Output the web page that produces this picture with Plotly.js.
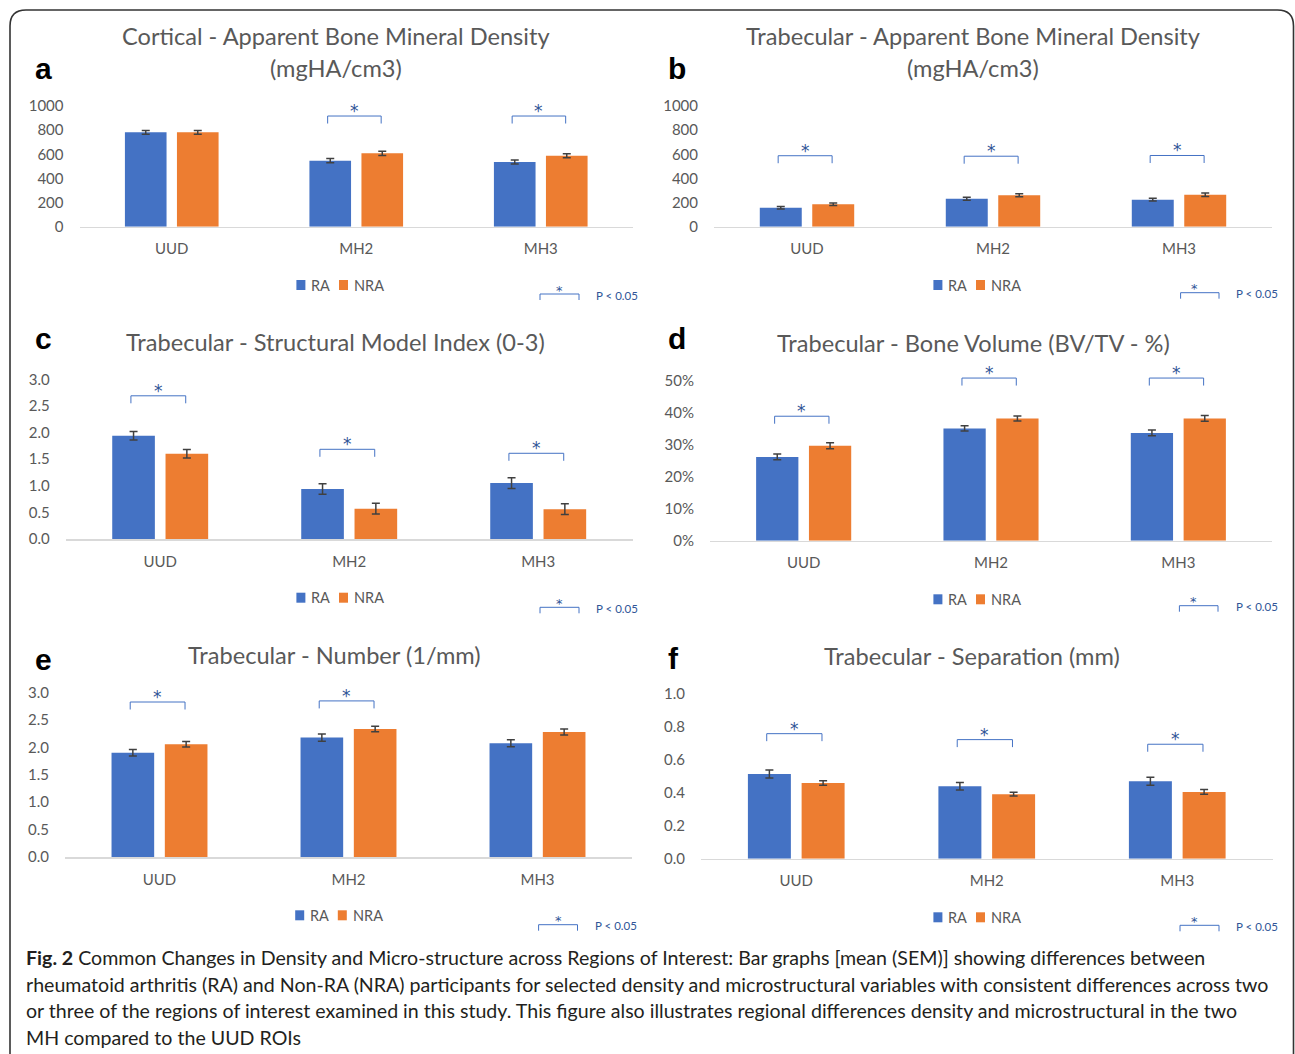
<!DOCTYPE html>
<html><head><meta charset="utf-8">
<script src="https://cdn.plot.ly/plotly-3.0.1.min.js"></script>
<style>html,body{margin:0;padding:0;background:#fff}#chart{width:1295px;height:1054px}</style>
</head><body><div id="chart"></div>
<script>
// ---------------- DATA ----------------
const categories = ['UUD', 'MH2', 'MH3'];
const seriesNames = ['RA', 'NRA'];

const aTitle = ['Cortical - Apparent Bone Mineral Density', '(mgHA/cm3)'];
const aRA = [782, 547, 536];
const aNRA = [782, 608, 588];
const aRAerr = [16, 18, 17];
const aNRAerr = [16, 18, 17];
const aSig = [null, 917, 917];

const bTitle = ['Trabecular - Apparent Bone Mineral Density', '(mgHA/cm3)'];
const bRA = [157, 232, 224];
const bNRA = [186, 260, 265];
const bRAerr = [10, 12, 12];
const bNRAerr = [10, 12, 15];
const bSig = [588, 584, 590];

const cTitle = ['Trabecular - Structural Model Index (0-3)'];
const cRA = [1.94, 0.94, 1.05];
const cNRA = [1.60, 0.57, 0.56];
const cRAerr = [0.08, 0.10, 0.10];
const cNRAerr = [0.08, 0.10, 0.10];
const cSig = [2.69, 1.685, 1.61];

const dTitle = ['Trabecular - Bone Volume (BV/TV - %)'];
const dRA = [0.261, 0.350, 0.336];
const dNRA = [0.296, 0.381, 0.381];
const dRAerr = [0.009, 0.008, 0.009];
const dNRAerr = [0.009, 0.008, 0.009];
const dSig = [0.388, 0.507, 0.507];

const eTitle = ['Trabecular - Number (1/mm)'];
const eRA = [1.905, 2.18, 2.077];
const eNRA = [2.058, 2.337, 2.282];
const eRAerr = [0.06, 0.065, 0.065];
const eNRAerr = [0.05, 0.05, 0.055];
const eSig = [2.83, 2.85, null];

const fTitle = ['Trabecular - Separation (mm)'];
const fRA = [0.512, 0.438, 0.468];
const fNRA = [0.458, 0.390, 0.404];
const fRAerr = [0.024, 0.023, 0.024];
const fNRAerr = [0.014, 0.011, 0.014];
const fSig = [0.756, 0.72, 0.692];

const sigText = '*';
const pLegendText = 'P < 0.05';
const captionBold = 'Fig. 2';
const captionLines = [
  'Common Changes in Density and Micro-structure across Regions of Interest: Bar graphs [mean (SEM)] showing differences between',
  'rheumatoid arthritis (RA) and Non-RA (NRA) participants for selected density and microstructural variables with consistent differences across two',
  'or three of the regions of interest examined in this study. This figure also illustrates regional differences density and microstructural in the two',
  'MH compared to the UUD ROIs'
];

// ---------------- STYLE / LAYOUT ----------------
const W = 1295, H = 1054;
const BLUE = '#4472C4', ORANGE = '#ED7D31', STAR = '#2F5597';
const seriesColors = [BLUE, ORANGE];
const GRAY = '#595959';
const FONT = 'Lato, "Open Sans", sans-serif';
const px = x => x / W;
const py = y => 1 - y / H;

const panels = [
  {letter:'a', title:aTitle, ra:aRA, nra:aNRA, raErr:aRAerr, nraErr:aNRAerr, sig:aSig, top:1000, dtick:200, fmt:'d',
   xpx:[79.5,633], ypx:[226.7,106], titleX:336, titleY:36, letterPos:[33,79], leg:[296.4,285], pleg:{x0:540,x1:579,y:294,tx:594}},
  {letter:'b', title:bTitle, ra:bRA, nra:bNRA, raErr:bRAerr, nraErr:bNRAerr, sig:bSig, top:1000, dtick:200, fmt:'d',
   xpx:[714,1272], ypx:[226.7,106], titleX:973, titleY:36, letterPos:[665.6,79], leg:[933.4,285], pleg:{x0:1180.6,x1:1219,y:292.7,tx:1234}},
  {letter:'c', title:cTitle, ra:cRA, nra:cNRA, raErr:cRAerr, nraErr:cNRAerr, sig:cSig, top:3, dtick:0.5, fmt:'.1f',
   xpx:[65.7,632.7], ypx:[539,379.3], titleX:335, titleY:341.7, letterPos:[33,349.3], leg:[296.4,597.7], pleg:{x0:540,x1:579,y:607.3,tx:594}},
  {letter:'d', title:dTitle, ra:dRA, nra:dNRA, raErr:dRAerr, nraErr:dNRAerr, sig:dSig, top:0.5, dtick:0.1, fmt:'.0%',
   xpx:[710,1272], ypx:[540.7,380.3], titleX:973, titleY:342.7, letterPos:[665.6,349.3], leg:[933.4,599.3], pleg:{x0:1179.4,x1:1218,y:605.7,tx:1233.7}},
  {letter:'e', title:eTitle, ra:eRA, nra:eNRA, raErr:eRAerr, nraErr:eNRAerr, sig:eSig, top:3, dtick:0.5, fmt:'.1f',
   xpx:[65,632], ypx:[857,692.7], titleX:334, titleY:655, letterPos:[33,670], leg:[295.2,915.3], pleg:{x0:538.6,x1:577.5,y:924.7,tx:592.9}},
  {letter:'f', title:fTitle, ra:fRA, nra:fNRA, raErr:fRAerr, nraErr:fNRAerr, sig:fSig, top:1, dtick:0.2, fmt:'.1f',
   xpx:[701,1272.5], ypx:[858.7,693.3], titleX:972.3, titleY:656, letterPos:[665.6,669.3], leg:[933.4,917.3], pleg:{x0:1180,x1:1219,y:925.3,tx:1234}}
];

const traces = [], annotations = [], shapes = [];
const layout = {
  width: W, height: H,
  margin: {l:0, r:0, t:0, b:0, pad:0},
  paper_bgcolor: '#ffffff', plot_bgcolor: 'rgba(0,0,0,0)',
  barmode: 'group', bargap: 0.436, bargroupgap: 0.2,
  showlegend: false,
  font: {family: FONT, color: GRAY}
};

panels.forEach((p, i) => {
  const n = i + 1;
  const suf = n === 1 ? '' : String(n);
  const xr = 'x' + suf, yr = 'y' + suf;
  const ext = 1.1;
  const y0 = p.ypx[0], yT = p.ypx[1];
  const yTopPx = y0 - (y0 - yT) * ext;
  layout['xaxis' + suf] = {
    domain: [px(p.xpx[0]), px(p.xpx[1])], type: 'category', range: [-0.5, 2.5], anchor: yr,
    showline: true, linecolor: '#D9D9D9', linewidth: 1.5, ticks: '', showgrid: false, zeroline: false,
    tickfont: {family: FONT, size: 15, color: GRAY}, ticklabelstandoff: 8, fixedrange: true
  };
  layout['yaxis' + suf] = {
    domain: [py(y0), py(yTopPx)], range: [0, p.top * ext], anchor: xr,
    tick0: 0, dtick: p.dtick, tickformat: p.fmt, showgrid: false, zeroline: false, showline: false, ticks: '',
    tickfont: {family: FONT, size: 15, color: GRAY}, ticklabelstandoff: 15, fixedrange: true
  };
  const vals = [p.ra, p.nra], errs = [p.raErr, p.nraErr];
  seriesNames.forEach((nm, s) => {
    traces.push({type:'bar', x:categories, y:vals[s], name:nm, xaxis:xr, yaxis:yr,
      marker:{color:seriesColors[s]}, error_y:{type:'data', array:errs[s], color:'#404040', thickness:1.5, width:4},
      hoverinfo:'skip'});
  });

  // legend (square swatch + name, Excel style)
  const lx = p.leg[0], ly = p.leg[1];
  const offs = [0, 42.6];
  seriesNames.forEach((nm, s) => {
    const sx = lx + offs[s];
    shapes.push({type:'rect', xref:'paper', yref:'paper', x0:px(sx), x1:px(sx+9), y0:py(ly+5), y1:py(ly-5),
      fillcolor:seriesColors[s], line:{width:0}});
    annotations.push({xref:'paper', yref:'paper', x:px(sx+13), y:py(ly), text:nm, showarrow:false,
      xanchor:'left', yanchor:'middle', font:{family:FONT, size:14.5, color:GRAY}});
  });

  // significance brackets
  p.sig.forEach((lvl, j) => {
    if (lvl === null) return;
    const bx0 = j - 0.155, bx1 = j + 0.135;
    const ln = {color: BLUE, width: 1};
    shapes.push({type:'line', xref:xr, yref:yr, x0:bx0, x1:bx1, y0:lvl, y1:lvl, line:ln});
    shapes.push({type:'line', xref:xr, yref:yr, ysizemode:'pixel', yanchor:lvl, x0:bx0, x1:bx0, y0:0, y1:-7.5, line:ln});
    shapes.push({type:'line', xref:xr, yref:yr, ysizemode:'pixel', yanchor:lvl, x0:bx1, x1:bx1, y0:0, y1:-7.5, line:ln});
    annotations.push({xref:xr, yref:yr, x:(bx0+bx1)/2, y:lvl, text:sigText, showarrow:false, yanchor:'middle', yshift:5,
      font:{family:'"DejaVu Sans", sans-serif', size:17, color:STAR}});
  });

  // P < 0.05 key
  const pl = p.pleg;
  const kl = {color: BLUE, width: 1};
  shapes.push({type:'line', xref:'paper', yref:'paper', x0:px(pl.x0), x1:px(pl.x1), y0:py(pl.y), y1:py(pl.y), line:kl});
  shapes.push({type:'line', xref:'paper', yref:'paper', x0:px(pl.x0), x1:px(pl.x0), y0:py(pl.y), y1:py(pl.y+6), line:kl});
  shapes.push({type:'line', xref:'paper', yref:'paper', x0:px(pl.x1), x1:px(pl.x1), y0:py(pl.y), y1:py(pl.y+6), line:kl});
  annotations.push({xref:'paper', yref:'paper', x:px((pl.x0+pl.x1)/2), y:py(pl.y), text:sigText, showarrow:false,
    yanchor:'middle', yshift:4, font:{family:'"DejaVu Sans", sans-serif', size:13, color:STAR}});
  annotations.push({xref:'paper', yref:'paper', x:px(pl.tx), y:py(pl.y+1), text:pLegendText, showarrow:false,
    xanchor:'left', yanchor:'middle', font:{family:FONT, size:11.5, color:STAR}});

  // titles
  p.title.forEach((t, k) => {
    annotations.push({xref:'paper', yref:'paper', x:px(p.titleX), y:py(p.titleY + k*32), text:t, showarrow:false,
      xanchor:'center', yanchor:'middle', font:{family:FONT, size:23.6, color:GRAY}});
  });
  // panel letter
  annotations.push({xref:'paper', yref:'paper', x:px(p.letterPos[0]), y:py(p.letterPos[1] - 10.5), text:'<b>' + p.letter + '</b>',
    showarrow:false, xanchor:'left', yanchor:'middle', font:{family:'"Liberation Sans", Arial, sans-serif', size:30, color:'#000000'}});
});

// caption
const capY = [957, 984, 1010, 1037];
captionLines.forEach((t, k) => {
  annotations.push({xref:'paper', yref:'paper', x:px(24), y:py(capY[k]), xanchor:'left', yanchor:'middle', showarrow:false,
    text: (k === 0 ? '<b>' + captionBold + '</b> ' : '') + t, font:{family:FONT, size:19.6, color:'#231F20'}});
});

// outer rounded frame
(function(){
  const L = 10, T = 10, R = 1293.5, B = 1075, r = 16;
  const P = (x, y) => px(x) + ',' + py(y);
  const path = 'M' + P(L, B) + ' L' + P(L, T + r) + ' Q' + P(L, T) + ' ' + P(L + r, T) +
    ' L' + P(R - r, T) + ' Q' + P(R, T) + ' ' + P(R, T + r) + ' L' + P(R, B);
  shapes.push({type:'path', xref:'paper', yref:'paper', path:path, line:{color:'#333333', width:1.6}});
})();

layout.shapes = shapes;
layout.annotations = annotations;

Plotly.newPlot('chart', traces, layout, {displayModeBar:false, staticPlot:true});
</script>
</body></html>
